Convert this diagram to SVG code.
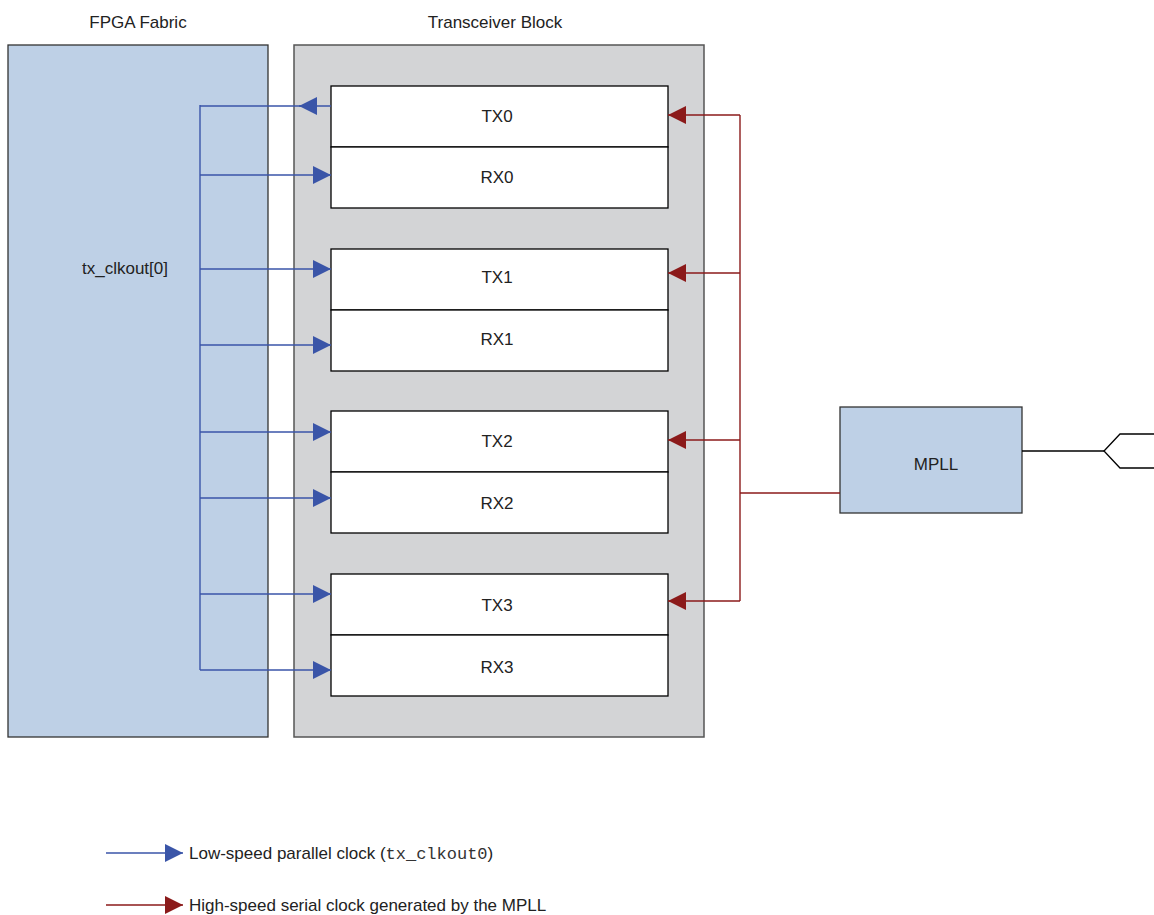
<svg xmlns="http://www.w3.org/2000/svg" width="1154" height="915" viewBox="0 0 1154 915">
<style>
text{font-family:"Liberation Sans",Arial,sans-serif;font-size:17px;fill:#222;}
.mono{font-family:"Liberation Mono","Courier New",monospace;fill:#333;}
.blk{fill:#fff;stroke:#000;stroke-width:1.3;}
.blue{stroke:#3a55a8;stroke-width:1.4;fill:none;}
.red{stroke:#8b1a1a;stroke-width:1.4;fill:none;}
</style>
<defs>
<marker id="ab" viewBox="0 0 10 10" refX="10" refY="5" markerWidth="18" markerHeight="18" markerUnits="userSpaceOnUse" orient="auto"><path d="M0,0 L10,5 L0,10 z" fill="#3a55a8"/></marker>
<marker id="ar" viewBox="0 0 10 10" refX="10" refY="5" markerWidth="18" markerHeight="18" markerUnits="userSpaceOnUse" orient="auto"><path d="M0,0 L10,5 L0,10 z" fill="#8b1a1a"/></marker>
</defs>
<rect width="1154" height="915" fill="#fff"/>
<g id="fpga">
<rect x="8" y="45" width="260" height="692" fill="#bed0e6" stroke="#333" stroke-width="1.3"/>
<text x="138" y="28" text-anchor="middle">FPGA Fabric</text>
<text x="125" y="274" text-anchor="middle">tx_clkout[0]</text>
</g>
<g id="transceiver">
<rect x="294" y="45" width="410" height="692" fill="#d3d4d6" stroke="#555" stroke-width="1.5"/>
<text x="495" y="28" text-anchor="middle">Transceiver Block</text>
</g>
<g id="tx0"><rect class="blk" x="331" y="86" width="337" height="61"/><text x="497" y="122" text-anchor="middle">TX0</text></g>
<g id="rx0"><rect class="blk" x="331" y="147" width="337" height="61"/><text x="497" y="183" text-anchor="middle">RX0</text></g>
<g id="tx1"><rect class="blk" x="331" y="249" width="337" height="61"/><text x="497" y="283" text-anchor="middle">TX1</text></g>
<g id="rx1"><rect class="blk" x="331" y="310" width="337" height="61"/><text x="497" y="345" text-anchor="middle">RX1</text></g>
<g id="tx2"><rect class="blk" x="331" y="411" width="337" height="61"/><text x="497" y="447" text-anchor="middle">TX2</text></g>
<g id="rx2"><rect class="blk" x="331" y="472" width="337" height="61"/><text x="497" y="509" text-anchor="middle">RX2</text></g>
<g id="tx3"><rect class="blk" x="331" y="574" width="337" height="61"/><text x="497" y="611" text-anchor="middle">TX3</text></g>
<g id="rx3"><rect class="blk" x="331" y="635" width="337" height="61"/><text x="497" y="673" text-anchor="middle">RX3</text></g>
<g id="mpll">
<rect x="840" y="407" width="182" height="106" fill="#bed0e6" stroke="#333" stroke-width="1.3"/>
<text x="936" y="470" text-anchor="middle">MPLL</text>
</g>
<g id="connectors">
<line class="blue" x1="200" y1="105" x2="200" y2="670"/>
<line class="blue" x1="200" y1="106" x2="331" y2="106"/>
<line class="blue" x1="317" y1="106" x2="299" y2="106" marker-end="url(#ab)"/>
<line class="blue" x1="200" y1="175" x2="331" y2="175" marker-end="url(#ab)"/>
<line class="blue" x1="200" y1="269" x2="331" y2="269" marker-end="url(#ab)"/>
<line class="blue" x1="200" y1="345" x2="331" y2="345" marker-end="url(#ab)"/>
<line class="blue" x1="200" y1="432" x2="331" y2="432" marker-end="url(#ab)"/>
<line class="blue" x1="200" y1="498" x2="331" y2="498" marker-end="url(#ab)"/>
<line class="blue" x1="200" y1="594" x2="331" y2="594" marker-end="url(#ab)"/>
<line class="blue" x1="200" y1="670" x2="331" y2="670" marker-end="url(#ab)"/>
<line class="red" x1="740" y1="115" x2="740" y2="601"/>
<line class="red" x1="740" y1="115" x2="668" y2="115" marker-end="url(#ar)"/>
<line class="red" x1="740" y1="273" x2="668" y2="273" marker-end="url(#ar)"/>
<line class="red" x1="740" y1="440" x2="668" y2="440" marker-end="url(#ar)"/>
<line class="red" x1="740" y1="601" x2="668" y2="601" marker-end="url(#ar)"/>
<line class="red" x1="740" y1="493" x2="840" y2="493"/>
<polyline points="1022,451 1104,451" fill="none" stroke="#000" stroke-width="1.3"/>
<polyline points="1154,434 1120,434 1104,451 1120,468 1154,468" fill="none" stroke="#000" stroke-width="1.3"/>
</g>
<g id="legend">
<line class="blue" x1="106" y1="853" x2="183" y2="853" marker-end="url(#ab)"/>
<text x="189" y="859">Low-speed parallel clock (<tspan class="mono">tx_clkout0</tspan>)</text>
<line class="red" x1="106" y1="905" x2="183" y2="905" marker-end="url(#ar)"/>
<text x="189" y="911">High-speed serial clock generated by the MPLL</text>
</g>
</svg>
